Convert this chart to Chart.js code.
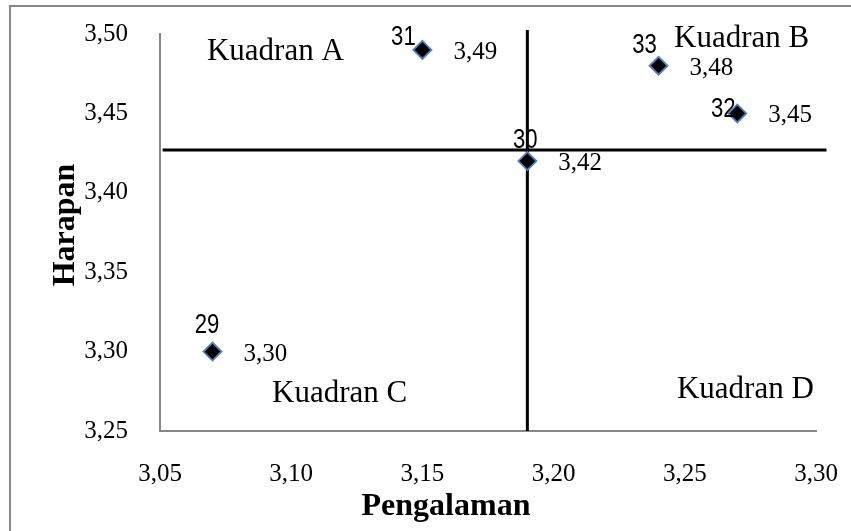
<!DOCTYPE html>
<html>
<head>
<meta charset="utf-8">
<script src="https://cdn.jsdelivr.net/npm/chart.js@4.4.1/dist/chart.umd.min.js"></script>
<style>
  html, body { margin: 0; padding: 0; background: #fff; }
  #wrap { width: 851px; height: 531px; position: relative; }
</style>
</head>
<body>
<div id="wrap"><canvas id="c" width="851" height="531"></canvas></div>
<script>
// Respondent groups and their mean scores
const respondentIds = ['29', '31', '30', '33', '32'];
const pengalaman = [3.07, 3.15, 3.19, 3.24, 3.27];
const harapan = [3.30, 3.49, 3.42, 3.48, 3.45];

// Quadrant split values
const splitX = 3.19;
const splitY = 3.427;

// Axis ticks
const xTicks = [3.05, 3.10, 3.15, 3.20, 3.25, 3.30];
const yTicks = [3.25, 3.30, 3.35, 3.40, 3.45, 3.50];

// Quadrant captions
const quadrantNames = ['Kuadran A', 'Kuadran B', 'Kuadran C', 'Kuadran D'];

const fmt = v => v.toFixed(2).replace('.', ',');
const SERIF = '"Liberation Serif", "Times New Roman", serif';
const SANS = '"Liberation Sans", Arial, sans-serif';

const points = pengalaman.map((x, i) => ({ x: x, y: harapan[i] }));

// Fixed axis box sizes; label overhang is already covered by the layout padding
const fixBox = size => s => {
  if (s.isHorizontal()) { s.height = size; } else { s.width = size; }
  s.paddingTop = 0; s.paddingBottom = 0; s.paddingLeft = 0; s.paddingRight = 0;
};

const quadrantLabelPlugin = {
  id: 'quadrantLabels',
  beforeDraw(chart) {
    const ctx = chart.ctx;
    ctx.save();
    ctx.fillStyle = '#fff';
    ctx.fillRect(0, 0, chart.width, chart.height);
    ctx.strokeStyle = '#878787';
    ctx.lineWidth = 2;
    ctx.strokeRect(10, 6, chart.width + 20, chart.height + 20);
    ctx.restore();
  },
  afterDatasetsDraw(chart, args, opts) {
    const ctx = chart.ctx;
    const xs = chart.scales.x, ys = chart.scales.y;
    ctx.save();
    ctx.fillStyle = '#000';

    // value labels to the right of each marker
    ctx.font = '25px ' + SERIF;
    ctx.textAlign = 'left';
    ctx.textBaseline = 'alphabetic';
    points.forEach(p => {
      const px = xs.getPixelForValue(p.x), py = ys.getPixelForValue(p.y);
      ctx.fillText(fmt(p.y), px + 31, py + 9);
    });

    // respondent number next to each marker
    ctx.font = '27px ' + SANS;
    ctx.textAlign = 'center';
    points.forEach((p, i) => {
      const px = xs.getPixelForValue(p.x), py = ys.getPixelForValue(p.y);
      const off = opts.idOffsets[respondentIds[i]] || [0, -15];
      ctx.save();
      ctx.translate(px + off[0], py + off[1]);
      ctx.scale(0.82, 1);
      ctx.fillText(respondentIds[i], 0, 0);
      ctx.restore();
    });

    // quadrant captions
    ctx.font = '31px ' + SERIF;
    ctx.textAlign = 'left';
    quadrantNames.forEach((name, i) => {
      const a = opts.quadrantAnchors[i];
      ctx.fillText(name, xs.getPixelForValue(a[0]), ys.getPixelForValue(a[1]));
    });

    // axis titles
    ctx.font = 'bold 32px ' + SERIF;
    ctx.textAlign = 'center';
    ctx.fillText('Pengalaman', 446, 515);
    ctx.save();
    ctx.translate(74, 225);
    ctx.rotate(-Math.PI / 2);
    ctx.fillText('Harapan', 0, 0);
    ctx.restore();

    ctx.restore();
  }
};

new Chart(document.getElementById('c'), {
  type: 'scatter',
  data: {
    datasets: [
      {
        label: 'Responden',
        data: points,
        pointStyle: 'rectRot',
        pointRadius: 9,
        pointHoverRadius: 9,
        backgroundColor: '#000',
        borderColor: '#4F81BD',
        borderWidth: 1.8,
        showLine: false
      },
      {
        label: 'Garis Harapan',
        data: [{ x: 3.051, y: splitY }, { x: 3.304, y: splitY }],
        showLine: true,
        borderColor: '#000',
        borderWidth: 3,
        pointRadius: 0,
        clip: false
      },
      {
        label: 'Garis Pengalaman',
        data: [{ x: splitX, y: 3.25 }, { x: splitX, y: 3.5025 }],
        showLine: true,
        borderColor: '#000',
        borderWidth: 3,
        pointRadius: 0,
        clip: false
      }
    ]
  },
  options: {
    responsive: false,
    animation: false,
    devicePixelRatio: 1,
    layout: { padding: { left: 45, top: 34, right: 35, bottom: 0 } },
    plugins: {
      legend: { display: false },
      tooltip: { enabled: false },
      quadrantLabels: {
        idOffsets: {
          '29': [-5.5, -19],
          '31': [-19, -5],
          '30': [-2, -13],
          '33': [-14, -13],
          '32': [-14, 3.5]
        },
        quadrantAnchors: [
          [3.0679, 3.4836],
          [3.2459, 3.4918],
          [3.0927, 3.2683],
          [3.2470, 3.2708]
        ]
      }
    },
    scales: {
      x: {
        type: 'linear',
        min: 3.05,
        max: 3.30,
        afterBuildTicks: s => { s.ticks = xTicks.map(v => ({ value: v })); },
        afterFit: fixBox(100),
        grid: { display: false, drawTicks: false },
        border: { display: true, color: '#878787', width: 2 },
        ticks: {
          color: '#000',
          padding: 28,
          maxRotation: 0,
          autoSkip: false,
          font: { family: SERIF, size: 25 },
          callback: v => fmt(v)
        }
      },
      y: {
        type: 'linear',
        min: 3.25,
        max: 3.50,
        afterBuildTicks: s => { s.ticks = yTicks.map(v => ({ value: v })); },
        afterFit: fixBox(115),
        grid: { display: false, drawTicks: false },
        border: { display: true, color: '#878787', width: 2 },
        ticks: {
          color: '#000',
          padding: 32,
          autoSkip: false,
          font: { family: SERIF, size: 25 },
          callback: v => fmt(v)
        }
      }
    }
  },
  plugins: [quadrantLabelPlugin]
});
</script>
</body>
</html>
